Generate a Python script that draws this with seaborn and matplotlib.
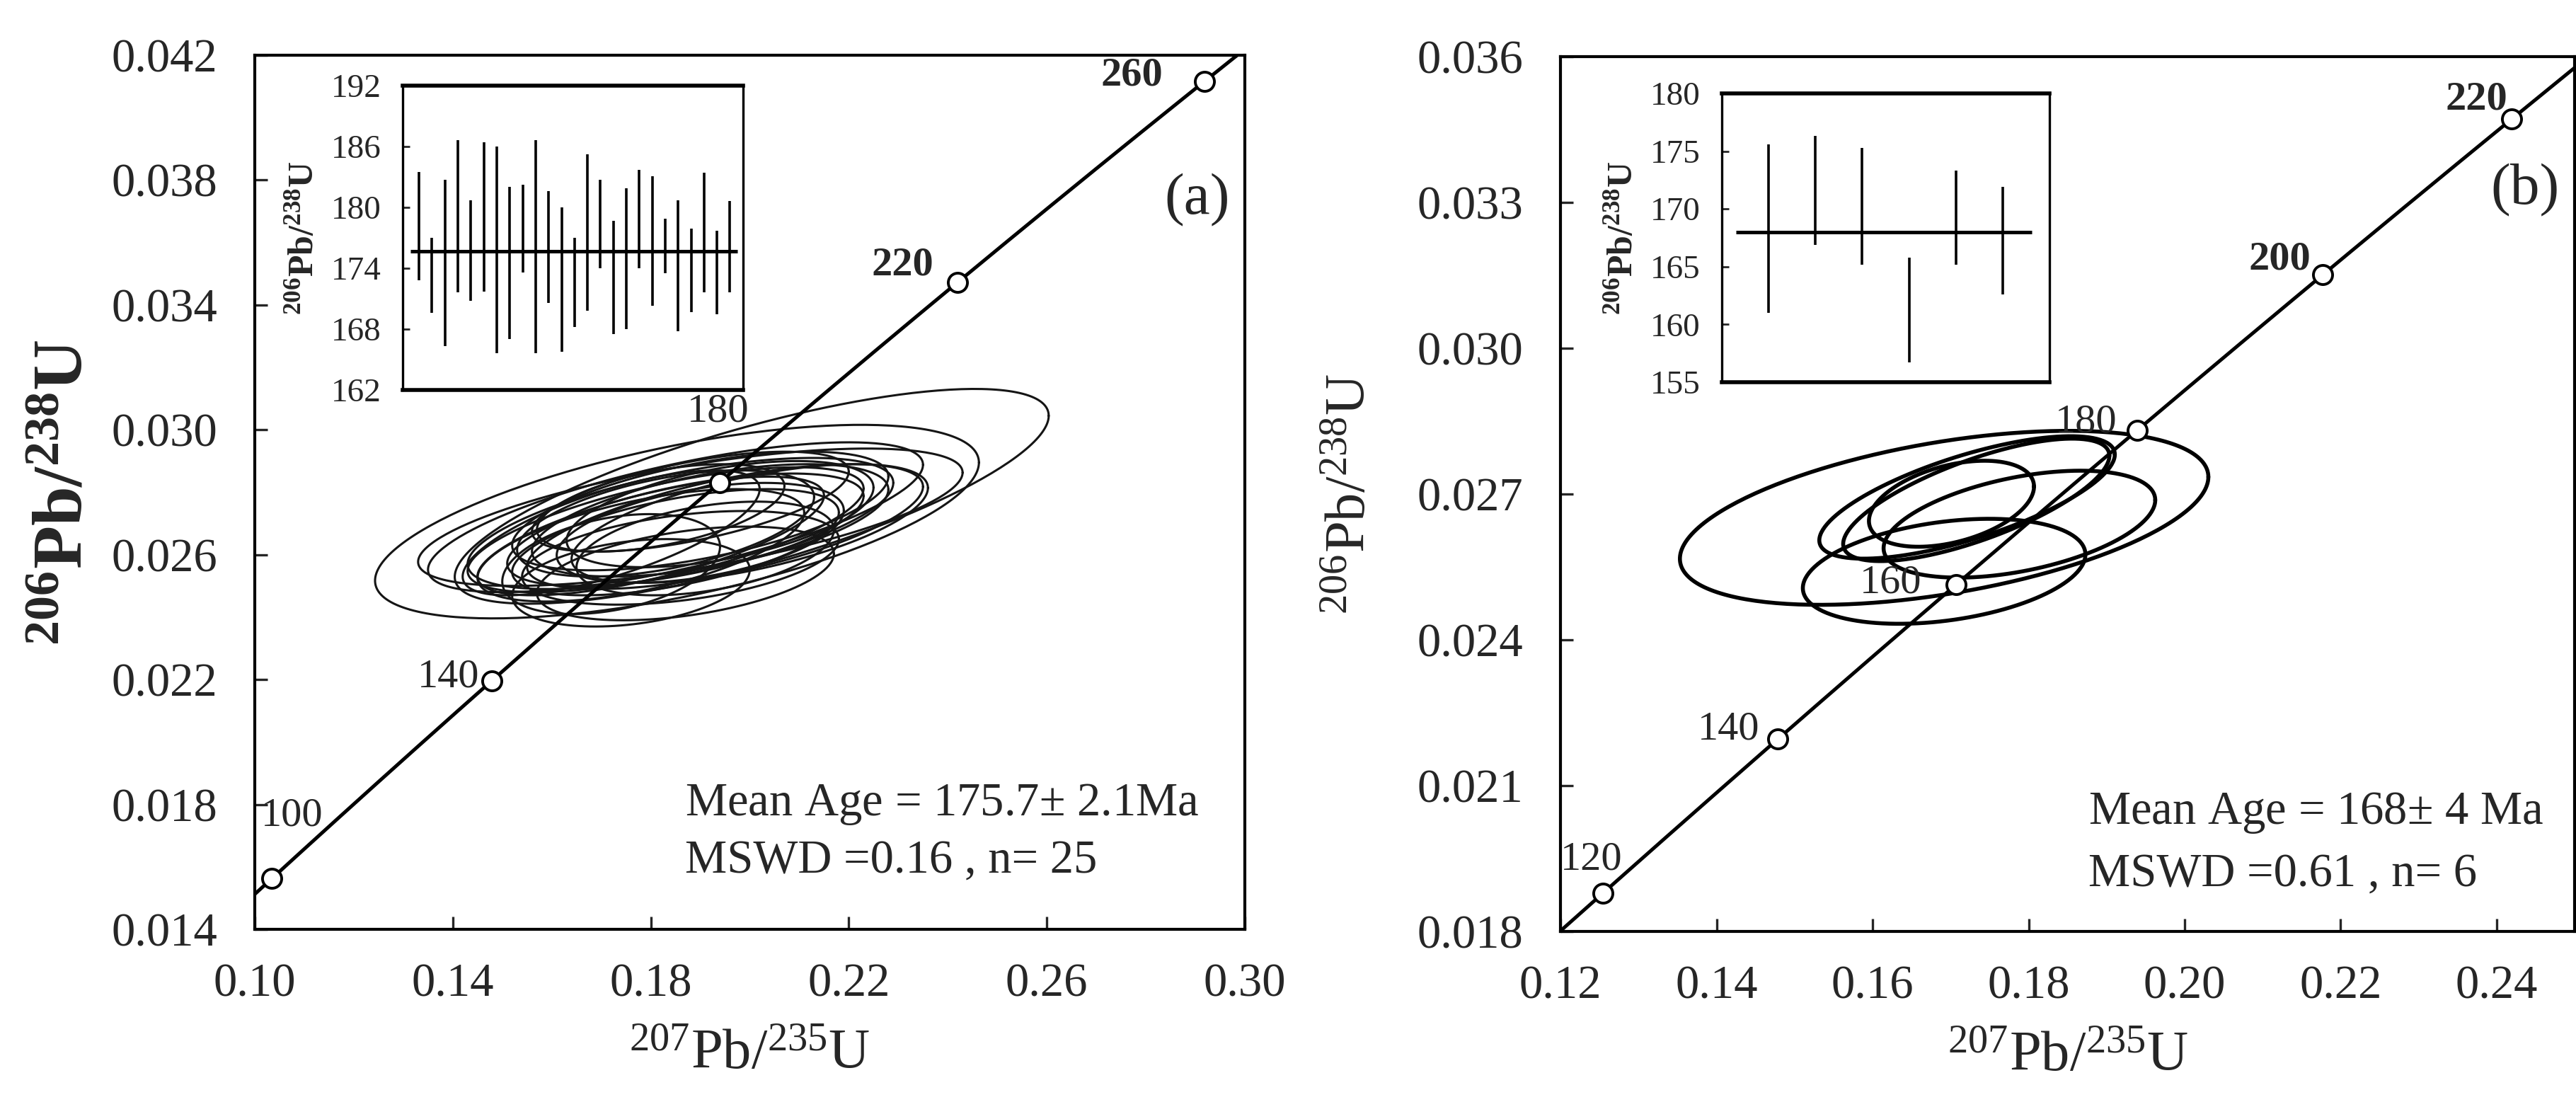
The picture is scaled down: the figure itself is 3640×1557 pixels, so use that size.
import numpy as np
import matplotlib
matplotlib.use("Agg")
import matplotlib.pyplot as plt
import seaborn as sns

sns.set_style("ticks")
plt.rcParams["font.family"] = ["Liberation Serif", "DejaVu Serif"]
plt.rcParams["mathtext.fontset"] = "custom"
plt.rcParams["mathtext.rm"] = "Liberation Serif"
plt.rcParams["mathtext.bf"] = "Liberation Serif:bold"
plt.rcParams["mathtext.default"] = "regular"

# decay constants (1/yr) used for the concordia curve
LAMBDA_238 = 1.55125e-10
LAMBDA_235 = 9.8485e-10

# ---------------- panel (a) ----------------
ages_a = [100, 140, 180, 220, 260]
# error ellipses: centre, half extent in x / y, correlation
ell_a_x = [0.2004, 0.1853, 0.1850, 0.1880, 0.1860, 0.1830, 0.1900, 0.1870, 0.1800,
           0.1920, 0.1850, 0.1880, 0.1950, 0.1830, 0.1900, 0.1780, 0.1940, 0.1860,
           0.1760, 0.1870, 0.1720, 0.2000, 0.1720, 0.1820, 0.1910]
ell_a_y = [0.02787, 0.02706, 0.0272, 0.0272, 0.0270, 0.0268, 0.0274, 0.0268, 0.0266,
           0.0271, 0.0264, 0.0277, 0.0269, 0.0270, 0.0267, 0.0263, 0.0273, 0.0259,
           0.0251, 0.0254, 0.0257, 0.0270, 0.0267, 0.0275, 0.0262]
ell_a_sx = [0.060, 0.061, 0.050, 0.055, 0.043, 0.040, 0.038, 0.036, 0.035,
            0.036, 0.033, 0.032, 0.040, 0.030, 0.029, 0.033, 0.031, 0.032,
            0.024, 0.030, 0.022, 0.036, 0.030, 0.025, 0.026]
ell_a_sy = [0.00344, 0.0031, 0.0024, 0.0022, 0.0021, 0.0020, 0.0019, 0.0018, 0.0019,
            0.0018, 0.0017, 0.0016, 0.0020, 0.0017, 0.0016, 0.0018, 0.0017, 0.0015,
            0.0014, 0.0015, 0.0016, 0.0019, 0.0020, 0.0014, 0.0015]
ell_a_rho = [0.75, 0.61, 0.70, 0.65, 0.62, 0.66, 0.58, 0.60, 0.68,
             0.55, 0.56, 0.60, 0.64, 0.50, 0.45, 0.58, 0.50, 0.40,
             0.30, 0.42, 0.35, 0.60, 0.70, 0.50, 0.40]
# inset: 206Pb/238U ages with error bars (Ma)
bar_a_low = [172.8, 169.6, 166.3, 171.6, 170.8, 171.7, 165.6, 167.0, 173.6, 165.6,
             170.6, 165.8, 168.2, 169.8, 174.0, 167.5, 168.0, 174.0, 170.3, 173.5,
             167.8, 169.7, 171.6, 169.5, 171.6]
bar_a_high = [183.5, 177.0, 182.7, 186.6, 180.7, 186.4, 186.0, 182.0, 182.2, 186.6,
              181.6, 180.0, 177.0, 185.2, 182.7, 178.7, 181.9, 183.7, 183.1, 178.9,
              180.7, 177.9, 183.4, 177.7, 180.6]
mean_a = 175.7
text_a = ["Mean Age = 175.7$\\pm$ 2.1Ma", "MSWD =0.16 , n= 25"]

# ---------------- panel (b) ----------------
ages_b = [120, 140, 160, 180, 200, 220]
ell_b_x = [0.16917, 0.17211, 0.17329, 0.17011, 0.17882, 0.16917]
ell_b_y = [0.02651, 0.02693, 0.02688, 0.02680, 0.02638, 0.02541]
ell_b_sx = [0.03387, 0.01894, 0.01706, 0.01058, 0.01741, 0.01811]
ell_b_sy = [0.00179, 0.00126, 0.00126, 0.000885, 0.00110, 0.00108]
ell_b_rho = [0.47, 0.70, 0.72, 0.40, 0.45, 0.32]
bar_b_low = [161.0, 166.9, 165.2, 156.7, 165.2, 162.6]
bar_b_high = [175.6, 176.3, 175.3, 165.8, 173.3, 171.9]
mean_b = 168.0
text_b = ["Mean Age = 168$\\pm$ 4 Ma", "MSWD =0.61 , n= 6"]


def concordia(t_ma):
    t = np.asarray(t_ma, dtype=float) * 1e6
    return np.expm1(LAMBDA_235 * t), np.expm1(LAMBDA_238 * t)


def ellipse(cx, cy, sx, sy, rho, n=240):
    th = np.linspace(0, 2 * np.pi, n)
    x = cx + sx * np.cos(th)
    y = cy + sy * (rho * np.cos(th) + np.sqrt(1 - rho ** 2) * np.sin(th))
    return x, y


def style_axes(ax, lw=1.5):
    for s in ax.spines.values():
        s.set_linewidth(lw)
        s.set_color("black")


def main_panel(ax, ages, ex, ey, esx, esy, erho, ell_lw, ell_col,
               xlim, ylim, xticks, yticks, fmt, label_off, bold_from, txt, txt_xy, tag, tag_xy):
    t_line = np.linspace(40, 330, 400)
    cx, cy = concordia(t_line)
    sns.lineplot(x=cx, y=cy, sort=False, estimator=None, color="black", lw=1.8, ax=ax, zorder=3)
    for i in range(len(ex)):
        x, y = ellipse(ex[i], ey[i], esx[i], esy[i], erho[i])
        ax.plot(x, y, color=ell_col, lw=ell_lw, zorder=2)
    mx, my = concordia(ages)
    sns.scatterplot(x=mx, y=my, s=95, facecolor="white", edgecolor="black",
                    linewidth=1.4, ax=ax, zorder=5, clip_on=False)
    for a, px, py, off in zip(ages, mx, my, label_off):
        ax.annotate(str(a), (px, py), xytext=off, textcoords="offset points",
                    ha="center", va="center", fontsize=21,
                    fontweight="bold" if a >= bold_from else "normal", zorder=6)
    ax.set_xlim(xlim)
    ax.set_ylim(ylim)
    ax.set_xticks(xticks)
    ax.set_yticks(yticks)
    ax.set_xticklabels([fmt[0].format(v) for v in xticks])
    ax.set_yticklabels([fmt[1].format(v) for v in yticks])
    ax.tick_params(axis="x", direction="in", length=6.5, width=1.2, labelsize=24, pad=17,
                   top=False)
    ax.tick_params(axis="y", direction="in", length=6.5, width=1.2, labelsize=24, pad=19,
                   right=False)
    style_axes(ax)
    ax.text(txt_xy[0], txt_xy[1], txt[0], fontsize=24, ha="left", va="center")
    ax.text(txt_xy[0], txt_xy[2], txt[1], fontsize=24, ha="left", va="center")
    ax.text(tag_xy[0], tag_xy[1], tag, fontsize=30, ha="center", va="center")


def inset_panel(ax, low, high, mean, xlim, mean_span, ylim, yticks):
    pos = np.arange(1, len(low) + 1)
    ax.vlines(pos, low, high, color="black", lw=1.3)
    ax.hlines(mean, mean_span[0], mean_span[1], color="black", lw=1.8)
    ax.set_xlim(xlim)
    ax.set_ylim(ylim)
    ax.set_xticks([])
    ax.set_yticks(yticks)
    ax.tick_params(axis="y", direction="in", length=3.5, width=1.0, labelsize=17, pad=11)
    for k, s in ax.spines.items():
        s.set_color("black")
        s.set_linewidth(2.0 if k in ("top", "bottom") else 1.2)


fig = plt.figure(figsize=(18.2, 7.785), dpi=200)

ax_a = fig.add_axes([0.0989, 0.1567, 0.3843, 0.7932])
main_panel(ax_a, ages_a, ell_a_x, ell_a_y, ell_a_sx, ell_a_sy, ell_a_rho, 1.1, "#151515",
           (0.10, 0.30), (0.014, 0.042), np.arange(0.10, 0.301, 0.04),
           np.arange(0.014, 0.0421, 0.004), ("{:.2f}", "{:.3f}"),
           [(10, 32), (-22, 2), (-1, 36), (-28, 9), (-37, 3)], 220,
           text_a, (0.187, 0.0180, 0.0162), "(a)", (0.2904, 0.03735))
ax_a.set_xlabel("$^{207}$Pb/$^{235}$U", fontsize=29)
ax_a.xaxis.set_label_coords(0.5, -0.115)
ax_a.set_ylabel("$^{\\mathbf{206}}$Pb/$^{\\mathbf{238}}$U", fontsize=36, fontweight="bold")
ax_a.yaxis.set_label_coords(-0.16, 0.5)

ax_b = fig.add_axes([0.6058, 0.1548, 0.3937, 0.7938])
main_panel(ax_b, ages_b, ell_b_x, ell_b_y, ell_b_sx, ell_b_sy, ell_b_rho, 2.0, "black",
           (0.12, 0.25), (0.018, 0.036), np.arange(0.12, 0.241, 0.02),
           np.arange(0.018, 0.0361, 0.003), ("{:.2f}", "{:.3f}"),
           [(-6, 17), (-25, 5), (-33, 1), (-26, 4), (-22, 8), (-18, 10)], 200,
           text_b, (0.1877, 0.02044, 0.01918), "(b)", (0.2436, 0.03325))
ax_b.set_xlabel("$^{207}$Pb/$^{235}$U", fontsize=29)
ax_b.xaxis.set_label_coords(0.5, -0.115)
ax_b.set_ylabel("$^{206}$Pb/$^{238}$U", fontsize=29)
ax_b.yaxis.set_label_coords(-0.18, 0.5)

ins_a = fig.add_axes([0.1563, 0.6461, 0.1321, 0.2762])
inset_panel(ins_a, bar_a_low, bar_a_high, mean_a, (-0.27, 26.0), (0.36, 25.55),
            (162, 192), np.arange(162, 193, 6))
ins_a.set_ylabel("$^{\\mathbf{206}}$Pb/$^{\\mathbf{238}}$U", fontsize=18, fontweight="bold")
ins_a.yaxis.set_label_coords(-0.24, 0.5)

ins_b = fig.add_axes([0.6684, 0.6532, 0.1272, 0.2620])
inset_panel(ins_b, bar_b_low, bar_b_high, mean_b, (0.0, 7.0), (0.31, 6.62),
            (155, 180), np.arange(155, 181, 5))
ins_b.set_ylabel("$^{\\mathbf{206}}$Pb/$^{\\mathbf{238}}$U", fontsize=18, fontweight="bold")
ins_b.yaxis.set_label_coords(-0.25, 0.5)

fig.savefig("out.png", dpi=200, facecolor="white")
